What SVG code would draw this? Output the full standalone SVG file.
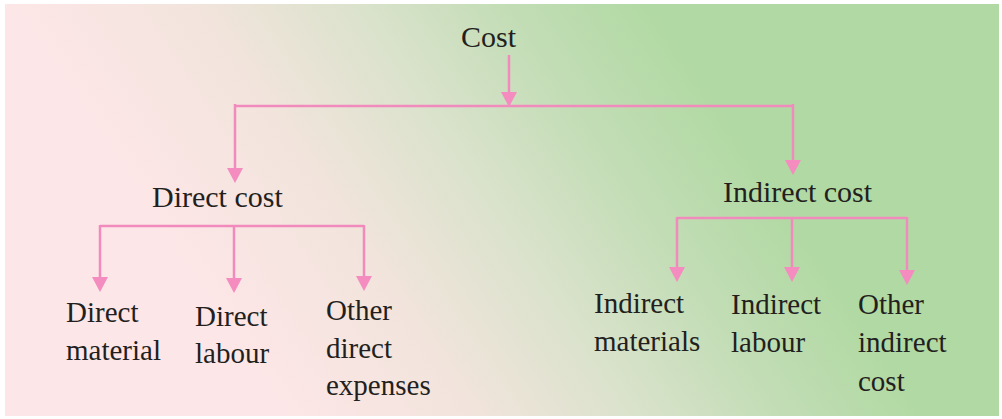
<svg xmlns="http://www.w3.org/2000/svg" width="1002" height="419" viewBox="0 0 1002 419">
<defs>
<linearGradient id="bg" gradientUnits="userSpaceOnUse" x1="140" y1="209.5" x2="589" y2="-90">
<stop offset="0" stop-color="#fde6e7"/>
<stop offset="0.3" stop-color="#f2e4dc"/>
<stop offset="0.55" stop-color="#dae2cc"/>
<stop offset="0.78" stop-color="#c2ddb5"/>
<stop offset="1" stop-color="#b1d9a3"/>
</linearGradient>
<marker id="arr" markerUnits="userSpaceOnUse" markerWidth="16" markerHeight="17" refX="0" refY="8" orient="auto" viewBox="0 0 16 17">
<path d="M0,0 L15,8 L0,16 Z" fill="#f48cbf"/>
</marker>
<style>
.t{font-family:"Liberation Serif","Times New Roman",serif;fill:#231f20}
.h{font-size:30px}
.l{font-size:29px}
.c{fill:none;stroke:#f28bbd;stroke-width:2.5}
.a{marker-end:url(#arr)}
</style>
</defs>
<rect width="1002" height="419" fill="#ffffff"/>
<rect x="5" y="4" width="994" height="412" fill="url(#bg)"/>
<g id="connectors">
<path class="c a" d="M509,55 V92"/>
<path class="c" d="M235,106 H793" stroke-width="3"/>
<path class="c a" d="M235,104 V168"/>
<path class="c a" d="M793,104 V160"/>
<path class="c" d="M100,226 H364" stroke-width="3"/>
<path class="c a" d="M100,225 V277"/>
<path class="c a" d="M234,225 V278"/>
<path class="c a" d="M364,225 V276"/>
<path class="c" d="M677,218 H907" stroke-width="3"/>
<path class="c a" d="M677,217 V267"/>
<path class="c a" d="M792,217 V267"/>
<path class="c a" d="M907,217 V270"/>
</g>
<g id="cost"><text class="t h" x="461" y="47">Cost</text></g>
<g id="direct-cost"><text class="t h" x="152" y="207">Direct cost</text></g>
<g id="indirect-cost"><text class="t h" x="723" y="202">Indirect cost</text></g>
<g id="direct-material"><text class="t l" x="66" y="322">Direct</text><text class="t l" x="66" y="360">material</text></g>
<g id="direct-labour"><text class="t l" x="195" y="326">Direct</text><text class="t l" x="195" y="363">labour</text></g>
<g id="other-direct"><text class="t l" x="326" y="320">Other</text><text class="t l" x="326" y="358">direct</text><text class="t l" x="326" y="395">expenses</text></g>
<g id="indirect-materials"><text class="t l" x="594" y="313">Indirect</text><text class="t l" x="594" y="351">materials</text></g>
<g id="indirect-labour"><text class="t l" x="731" y="314">Indirect</text><text class="t l" x="731" y="352">labour</text></g>
<g id="other-indirect"><text class="t l" x="858" y="314">Other</text><text class="t l" x="858" y="352">indirect</text><text class="t l" x="858" y="391">cost</text></g>
</svg>
